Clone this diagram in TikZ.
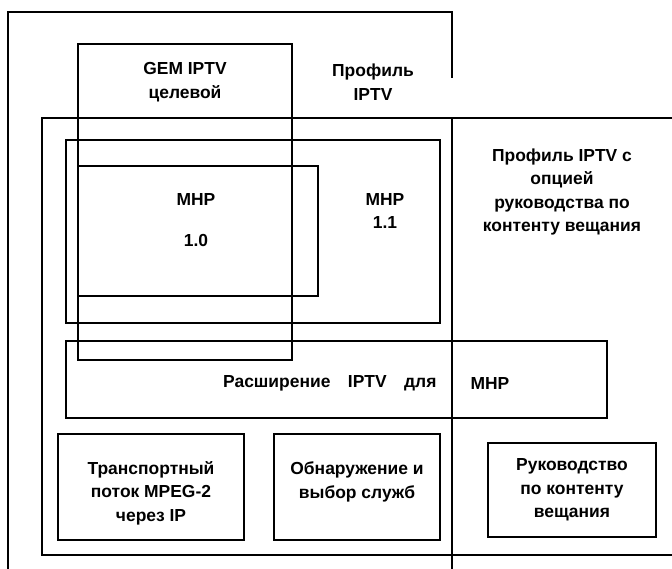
\documentclass[tikz,border=0pt]{standalone}
\usepackage{fontspec}
\setmainfont{Liberation Sans}
\usetikzlibrary{positioning}

\begin{document}
\begin{tikzpicture}[x=1bp, y=-1bp, line width=1.1bp,
  lbl/.style={align=center, inner sep=0pt,
    font=\fontsize{17.5}{23.5}\selectfont\bfseries}
  ]
  \clip (0,0) rectangle (672,569);
  \fill[white] (0,0) rectangle (672,569);

  % profile IPTV (open at the bottom)
  \draw (452,78) -- (452,12) -- (8,12) -- (8,580);
  \draw (452,118) -- (452,580);
  % profile with content guide option
  \draw (690,118) -- (42,118) -- (42,555) -- (690,555);
  % layers
  \draw (66,140) rectangle (440,323);   % MHP 1.1
  \draw (78,166) rectangle (318,296);   % MHP 1.0
  \draw (78,44) rectangle (292,360);    % GEM
  \draw (66,341) rectangle (607,418);   % extensions
  \draw (58,434) rectangle (244,540);
  \draw (274,434) rectangle (440,540);
  \draw (488,443) rectangle (656,537);

  \node[lbl] (gem) at (185,82) {GEM IPTV\\целевой};
  \node[lbl] (prof) at (373,82) {Профиль\\IPTV};
  \node[lbl] (profopt) at (562,192)
    {Профиль IPTV с\\опцией\\руководства по\\контенту вещания};
  \node[lbl] (mhp10) at (196,220) {MHP\\[17bp]1.0};
  \node[lbl] (mhp11) at (385,211) {MHP\\1.1};
  \node[lbl, anchor=east] (ext) at (437,383) {Расширение\quad IPTV\quad для};
  \node[lbl, anchor=west, right=33bp of ext] (extmhp) {MHP};
  \node[lbl] (tsp) at (151,493) {Транспортный\\поток MPEG-2\\через IP};
  \node[lbl] (disc) at (357,482) {Обнаружение и\\выбор служб};
  \node[lbl] (guide) at (572,490) {Руководство\\по контенту\\вещания};
\end{tikzpicture}
\end{document}
